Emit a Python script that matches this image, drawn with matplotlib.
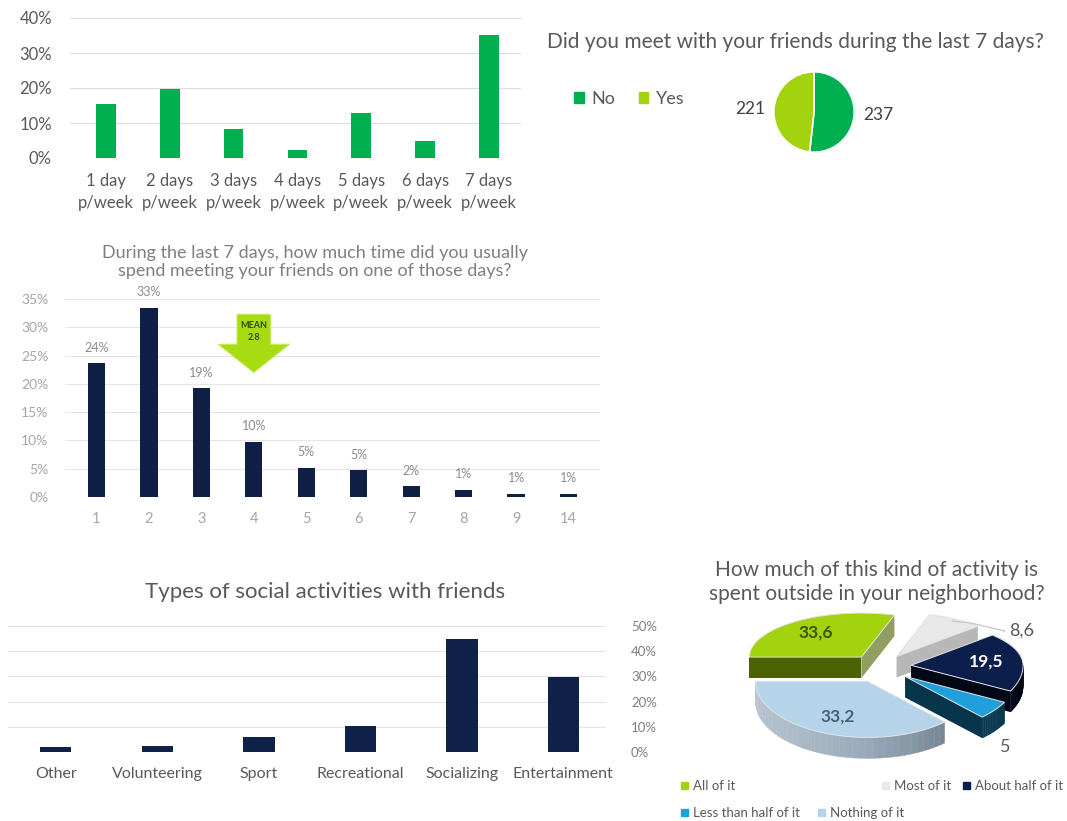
import numpy as np
import matplotlib
matplotlib.use("Agg")
import matplotlib.pyplot as plt
from matplotlib.patches import Polygon, Patch, FancyArrow
from matplotlib.colors import to_rgb

plt.rcParams['font.family'] = ['Lato', 'DejaVu Sans']

# ---------------- data ----------------
days_labels = ["1 day\np/week", "2 days\np/week", "3 days\np/week", "4 days\np/week",
               "5 days\np/week", "6 days\np/week", "7 days\np/week"]
days_share = [15.5, 19.7, 8.4, 2.2, 12.8, 4.8, 35.1]

met_labels = ["No", "Yes"]
met_counts = [237, 221]

hours_labels = ["1", "2", "3", "4", "5", "6", "7", "8", "9", "14"]
hours_values = [1, 2, 3, 4, 5, 6, 7, 8, 9, 14]
hours_share = [23.6, 33.4, 19.2, 9.8, 5.2, 4.7, 1.9, 1.3, 0.6, 0.6]

activity_labels = ["Other", "Volunteering", "Sport", "Recreational", "Socializing", "Entertainment"]
activity_share = [2.1, 2.4, 6.1, 10.4, 44.8, 29.8]

outside_labels = ["All of it", "Most of it", "About half of it", "Less than half of it", "Nothing of it"]
outside_share = [33.6, 8.6, 19.5, 5, 33.2]

# ---------------- colours ----------------
GREEN = "#00B050"
LIME = "#A3D20E"
NAVY = "#0F1F45"
GREY_TXT = "#595959"
GRID = "#DCDCDC"

W, H = 1067, 821
fig = plt.figure(figsize=(W / 100, H / 100), dpi=100)


def px_axes(x0, y0, x1, y1):
    # pixel box (origin top-left) -> figure axes
    return fig.add_axes([x0 / W, 1 - y1 / H, (x1 - x0) / W, (y1 - y0) / H])


def clean(ax):
    for s in ax.spines.values():
        s.set_visible(False)
    ax.tick_params(length=0)
    ax.set_axisbelow(True)


# ---------------- panel 1 : days per week ----------------
ax1 = px_axes(70, 18, 521, 158)
x = np.arange(len(days_share))
ax1.bar(x, days_share, width=0.31, color=GREEN)
ax1.set_xlim(-0.56, 6.5)
ax1.set_ylim(0, 40)
ax1.set_yticks(range(0, 41, 10))
ax1.set_yticklabels([f"{t}%" for t in range(0, 41, 10)], fontsize=12, color=GREY_TXT)
ax1.set_xticks(x)
ax1.set_xticklabels(days_labels, fontsize=12, color=GREY_TXT, linespacing=1.45)
ax1.grid(axis='y', color=GRID, lw=0.8)
clean(ax1)
ax1.tick_params(axis='y', pad=13)
ax1.tick_params(axis='x', pad=11)

# ---------------- panel 2 : met friends pie ----------------
fig.text(795 / W, 1 - 42 / H, "Did you meet with your friends during the last 7 days?",
         ha='center', va='center', fontsize=15, color=GREY_TXT)
ax2 = px_axes(773, 71, 855, 153)
ax2.pie(met_counts, labels=[str(v) for v in met_counts], colors=[GREEN, LIME],
        startangle=90, counterclock=False, labeldistance=1.22,
        wedgeprops=dict(edgecolor='white', linewidth=1.2),
        textprops=dict(fontsize=12.5, color="#404040"))
ax2.set_xlim(-1.02, 1.02)
ax2.set_ylim(-1.02, 1.02)
fig.legend(handles=[Patch(color=GREEN), Patch(color=LIME)], labels=met_labels,
           loc='center left', bbox_to_anchor=(574 / W, 1 - 99 / H), ncol=2,
           frameon=False, fontsize=13, handlelength=0.55, handleheight=0.55,
           handletextpad=0.4, columnspacing=1.3, borderpad=0, borderaxespad=0,
           labelcolor=GREY_TXT)

# ---------------- panel 3 : hours spent ----------------
fig.text(315 / W, 1 - 262 / H,
         "During the last 7 days, how much time did you usually\nspend meeting your friends on one of those days?",
         ha='center', va='center', fontsize=13, color="#7F7F7F", linespacing=1.2)
ax3 = px_axes(65, 299, 600, 497)
x3 = np.arange(len(hours_share))
bars3 = ax3.bar(x3, hours_share, width=0.33, color=NAVY)
ax3.bar_label(bars3, labels=[f"{v:.0f}%" for v in hours_share], padding=7,
              fontsize=9, color="#8C8C8C")
ax3.set_xlim(-0.6, 9.6)
ax3.set_ylim(0, 35)
ax3.set_yticks(range(0, 36, 5))
ax3.set_yticklabels([f"{t}%" for t in range(0, 36, 5)], fontsize=10, color="#A6A6A6")
ax3.set_xticks(x3)
ax3.set_xticklabels(hours_labels, fontsize=10.5, color="#A6A6A6")
ax3.grid(axis='y', color="#E6E6E6", lw=0.8)
clean(ax3)
ax3.tick_params(axis='y', pad=12)
ax3.tick_params(axis='x', pad=11)

mean_hours = np.average(hours_values, weights=hours_share)
arrow_x, arrow_top, arrow_tip = 3, 32.3, 22.0
ax3.add_patch(FancyArrow(arrow_x, arrow_top, 0, arrow_tip - arrow_top, width=0.64,
                         head_width=1.36, head_length=5.0, length_includes_head=True,
                         facecolor="#A8DC12", edgecolor="#C8EC60", lw=0.8, zorder=3))
ax3.text(arrow_x, 29.3, f"MEAN\n{mean_hours:.1f}", ha='center', va='center',
         fontsize=6.5, fontweight='bold', color="#2F4A00", linespacing=1.4, zorder=4)

# ---------------- panel 4 : types of activities ----------------
fig.text(325 / W, 1 - 592 / H, "Types of social activities with friends",
         ha='center', va='center', fontsize=16, color=GREY_TXT)
ax4 = px_axes(8, 626, 606, 752)
x4 = np.arange(len(activity_share))
ax4.bar(x4, activity_share, width=0.31, color="#0F2148")
ax4.set_xlim(-0.47, 5.42)
ax4.set_ylim(0, 50)
ax4.yaxis.tick_right()
ax4.set_yticks(range(0, 51, 10))
ax4.set_yticklabels([f"{t}%" for t in range(0, 51, 10)], fontsize=9.5, color="#7F7F7F")
ax4.set_xticks(x4)
ax4.set_xticklabels(activity_labels, fontsize=11.5, color=GREY_TXT)
ax4.grid(axis='y', color="#E3E3E3", lw=0.8)
clean(ax4)
ax4.tick_params(axis='y', pad=18)
ax4.tick_params(axis='x', pad=11)

# ---------------- panel 5 : 3D exploded pie ----------------
fig.text(877 / W, 1 - 582 / H, "How much of this kind of activity is\nspent outside in your neighborhood?",
         ha='center', va='center', fontsize=15, color=GREY_TXT, linespacing=1.28)

top_colors = [LIME, "#E8E8E8", "#0C1F4C", "#1FA0DC", "#B5D4EA"]
side_colors = ["#4B6200", "#9C9C9C", "#03091A", "#0A4A6A", "#97AABA"]
label_colors = ["#3D5300", GREY_TXT, "white", GREY_TXT, "#4A6078"]
explode = [0.28, 0.28, 0.28, 0.28, 0.28]
outside_lbl = [False, True, False, True, False]
draw_order = [1, 0, 4, 2, 3]

ax5 = px_axes(680, 600, 1067, 821)
ax5.set_xlim(680, 1067)
ax5.set_ylim(821, 600)
ax5.axis('off')

cx, cy, rx, ry_back, ry_front, depth = 880, 667, 112, 44, 56, 21


def shade(c, f):
    c = np.array(to_rgb(c))
    f = float(np.clip(f, -0.9, 0.9))
    return tuple(c + (1 - c) * f) if f > 0 else tuple(c * (1 + f))


def warp(theta):
    # perspective: back of the pie looks compressed, front enlarged
    u = (180 - theta) / 360
    return theta + 16 * np.sin(np.pi * u)


def ry(ang):
    return ry_back if np.sin(np.radians(ang)) > 0 else ry_front


total = sum(outside_share)
a = 180.0
geo = []
for v, e in zip(outside_share, explode):
    a1, a2 = a, a - 360 * v / total
    a = a2
    w1, w2 = warp(a1), warp(a2)
    mid = (w1 + w2) / 2
    m = np.radians(mid)
    geo.append((w1, w2, mid, cx + e * rx * np.cos(m), cy - e * ry(mid) * np.sin(m)))

for i in draw_order:
    a1, a2, midd, tx, ty = geo[i]

    def P(ang, r=1.0, dz=0.0):
        t = np.radians(ang)
        return (tx + r * rx * np.cos(t), ty - r * ry(ang) * np.sin(t) + dz)

    # radial cut faces
    for ang, vis, nx in ((a1, np.cos(np.radians(a1)) < 0, -np.sin(np.radians(a1))),
                         (a2, np.cos(np.radians(a2)) > 0, np.sin(np.radians(a2)))):
        if vis:
            ax5.add_patch(Polygon([(tx, ty), P(ang), P(ang, dz=depth), (tx, ty + depth)],
                                  closed=True, facecolor=shade(side_colors[i], 0.4 * nx),
                                  edgecolor='none'))
    # outer wall (front half only)
    lo, hi = max(a2, -180), min(a1, 0)
    if hi > lo:
        angs = np.linspace(lo, hi, 40)
        for t0, t1 in zip(angs[:-1], angs[1:]):
            f = -0.3 * np.cos(np.radians((t0 + t1) / 2))
            col = shade(side_colors[i], f)
            ax5.add_patch(Polygon([P(t0), P(t1), P(t1, dz=depth), P(t0, dz=depth)], closed=True,
                                  facecolor=col, edgecolor=col, lw=0.3))
    # top face
    arc = [P(t) for t in np.linspace(a1, a2, 80)]
    ax5.add_patch(Polygon([(tx, ty)] + arc, closed=True, facecolor=top_colors[i],
                          edgecolor="#E2E2E2", lw=0.7))

    txt = f"{outside_share[i]:g}".replace(".", ",")
    if outside_lbl[i]:
        if np.sin(np.radians(midd)) > 0:
            ax_, ay_ = P(midd, 0.95)
            ax5.plot([ax_, ax_ + 18, ax_ + 52], [ay_, ay_ + 2, ay_ + 10], color="#C8C8C8", lw=1)
            ax5.text(ax_ + 56, ay_ + 10, txt, ha='left', va='center', fontsize=13, color=GREY_TXT)
        else:
            lx, ly = P(midd, 1.12, depth + 12)
            ax5.text(lx, ly, txt, ha='center', va='center', fontsize=13, color=GREY_TXT)
    else:
        lx, ly = P(midd, 0.68)
        ax5.text(lx, ly, txt, ha='center', va='center', fontsize=12.5,
                 fontweight='bold', color=label_colors[i])

legend_pos = [(681, 786), (882, 786), (963, 786), (681, 813), (818, 813)]
for lab, col, (lx, ly) in zip(outside_labels, top_colors, legend_pos):
    fig.legend(handles=[Patch(color=col)], labels=[lab], loc='center left',
               bbox_to_anchor=(lx / W, 1 - ly / H), frameon=False, fontsize=9.5,
               handlelength=0.5, handleheight=0.5, handletextpad=0.4,
               borderpad=0, borderaxespad=0, labelcolor=GREY_TXT)

fig.savefig("out.png", dpi=100, facecolor='white')
